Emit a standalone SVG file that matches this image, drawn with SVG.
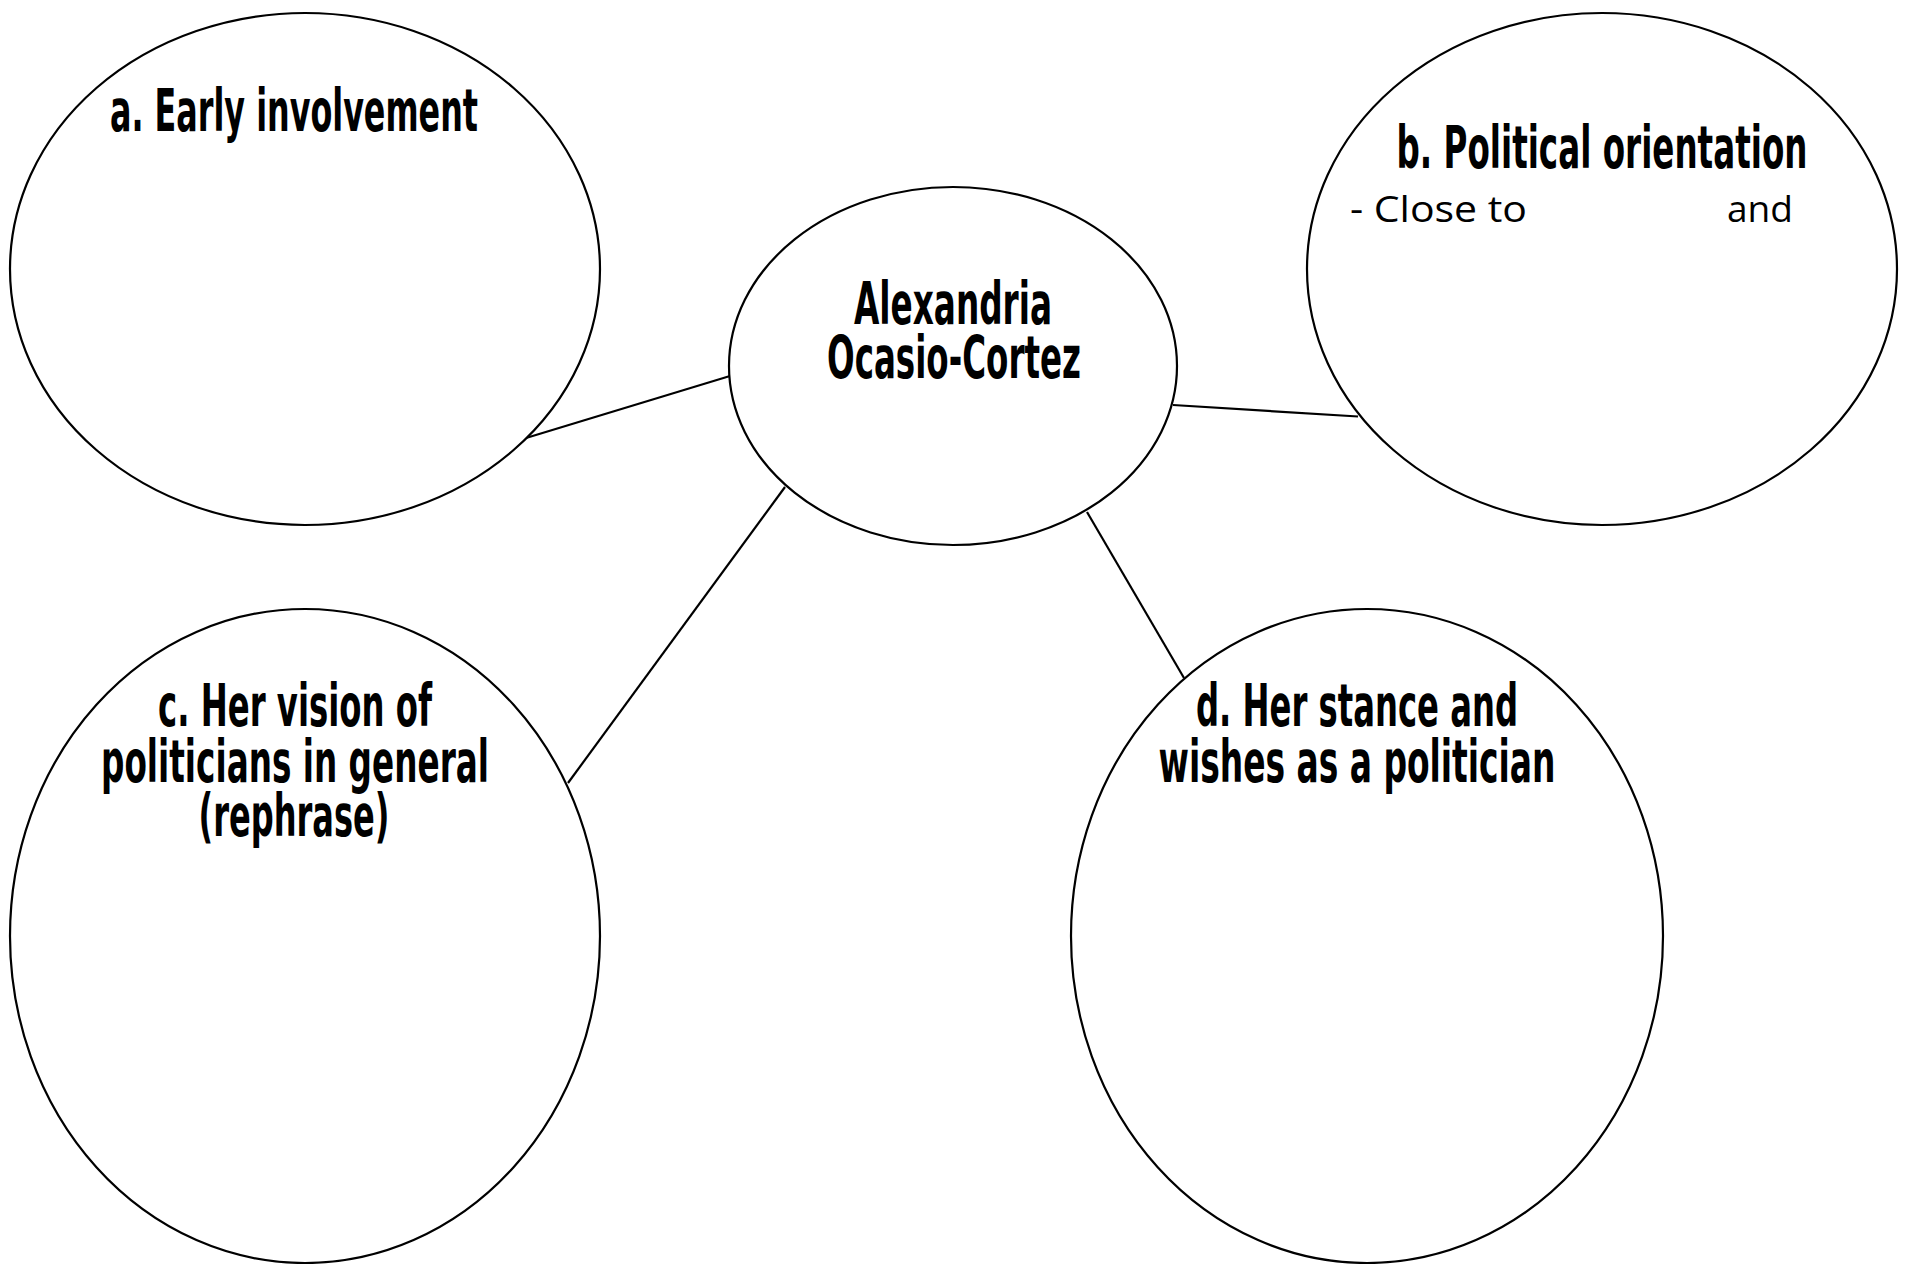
<svg xmlns="http://www.w3.org/2000/svg" width="1907" height="1264" viewBox="0 0 1907 1264">
<style>
.node ellipse{fill:#fff;stroke:#000;stroke-width:2.2}
.conn line{stroke:#000;stroke-width:2.2}
.h{font-family:"Liberation Sans Narrow","DejaVu Sans Condensed","Liberation Sans",sans-serif;font-weight:bold;font-size:58px;text-anchor:middle;fill:#000}
.s{font-family:"Open Sans","Noto Sans",sans-serif;font-size:37px;fill:#000}
</style>
<rect width="1907" height="1264" fill="#fff"/>
<g id="connectors" class="conn">
<line x1="526" y1="438" x2="730" y2="376"/>
<line x1="1173" y1="405" x2="1358" y2="416.5"/>
<line x1="785" y1="487" x2="568" y2="783"/>
<line x1="1087" y1="512" x2="1184" y2="678"/>
</g>
<g id="node-a" class="node">
<ellipse cx="305" cy="269" rx="295" ry="256"/>
<text class="h" x="294" y="130.5" textLength="368" lengthAdjust="spacingAndGlyphs">a. Early involvement</text>
</g>
<g id="node-b" class="node">
<ellipse cx="1602" cy="269" rx="295" ry="256"/>
<text class="h" x="1602" y="168" textLength="411" lengthAdjust="spacingAndGlyphs">b. Political orientation</text>
<text class="s" y="222"><tspan x="1350" textLength="177" lengthAdjust="spacingAndGlyphs">- Close to</tspan><tspan x="1727" textLength="66" lengthAdjust="spacingAndGlyphs">and</tspan></text>
</g>
<g id="node-center" class="node">
<ellipse cx="953" cy="366" rx="224" ry="179"/>
<text class="h" x="953" y="324" textLength="198" lengthAdjust="spacingAndGlyphs">Alexandria</text>
<text class="h" x="954" y="378" textLength="254" lengthAdjust="spacingAndGlyphs">Ocasio-Cortez</text>
</g>
<g id="node-c" class="node">
<ellipse cx="305" cy="936" rx="295" ry="327"/>
<text class="h" x="295" y="725.5" textLength="274" lengthAdjust="spacingAndGlyphs">c. Her vision of</text>
<text class="h" x="295" y="781.5" textLength="388" lengthAdjust="spacingAndGlyphs">politicians in general</text>
<text class="h" x="294" y="836" textLength="191" lengthAdjust="spacingAndGlyphs">(rephrase)</text>
</g>
<g id="node-d" class="node">
<ellipse cx="1367" cy="936" rx="296" ry="327"/>
<text class="h" x="1357" y="725.5" textLength="322" lengthAdjust="spacingAndGlyphs">d. Her stance and</text>
<text class="h" x="1357" y="781.5" textLength="397" lengthAdjust="spacingAndGlyphs">wishes as a politician</text>
</g>
</svg>
